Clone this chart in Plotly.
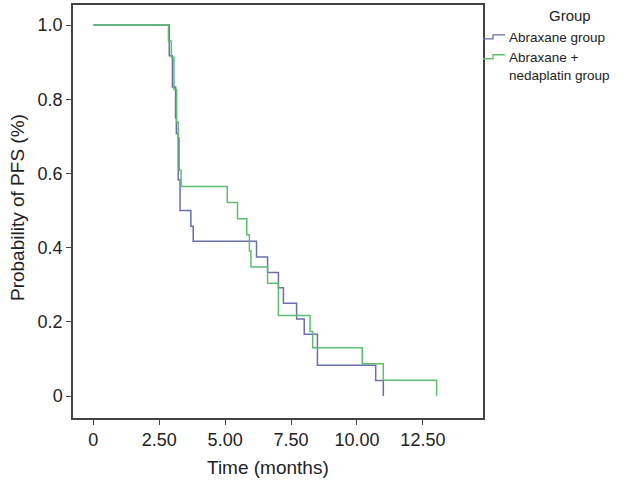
import plotly.graph_objects as go

# Abraxane group (step-function KM estimate)
abx_time = [0, 2.88, 3.00, 3.12, 3.15, 3.22, 3.29, 3.70, 3.79, 6.19, 6.61, 7.02, 7.21, 7.71, 8.00, 8.50, 10.71, 11.00]
abx_surv = [1.0, 0.917, 0.833, 0.750, 0.708, 0.583, 0.500, 0.458, 0.417, 0.375, 0.333, 0.292, 0.250, 0.208, 0.167, 0.083, 0.042, 0.0]

# Abraxane + nedaplatin group
ned_time = [0, 2.85, 2.96, 3.06, 3.16, 3.22, 3.26, 3.33, 5.08, 5.47, 5.82, 5.92, 5.98, 6.61, 7.02, 8.22, 8.32, 10.20, 11.00, 13.02]
ned_surv = [1.0, 0.957, 0.913, 0.826, 0.739, 0.696, 0.609, 0.565, 0.522, 0.478, 0.435, 0.391, 0.348, 0.304, 0.217, 0.174, 0.130, 0.087, 0.043, 0.0]

x_ticks = [0, 2.5, 5, 7.5, 10, 12.5]
x_ticktext = ["0", "2.50", "5.00", "7.50", "10.00", "12.50"]
y_ticks = [0, 0.2, 0.4, 0.6, 0.8, 1.0]
y_ticktext = ["0", "0.2", "0.4", "0.6", "0.8", "1.0"]

legend_title = "Group"
series_labels = ["Abraxane group", "Abraxane +<br>nedaplatin group"]
BLUE = "#6b6fab"
GREEN = "#5dbd72"
FONT = "Liberation Sans, Arial, sans-serif"

fig = go.Figure()
fig.add_trace(go.Scatter(x=abx_time, y=abx_surv, mode="lines", line=dict(shape="hv", color=BLUE, width=1.5),
                         name="Abraxane group", showlegend=False))
fig.add_trace(go.Scatter(x=ned_time, y=ned_surv, mode="lines", line=dict(shape="hv", color=GREEN, width=1.5),
                         name="Abraxane + nedaplatin group", showlegend=False))

W, H = 632, 481
ml, mr, mt, mb = 73, 149, 3, 63

def px_to_paper(xp, yp):
    return (xp - ml) / (W - ml - mr), 1 - (yp - mt) / (H - mt - mb)

annotations = []
shapes = []

# axis titles
tx, ty = px_to_paper(268, 468)
annotations.append(dict(x=tx, y=ty, xref="paper", yref="paper", text="Time (months)", showarrow=False,
                        xanchor="center", yanchor="middle", font=dict(size=19, color="#222", family=FONT)))
tx, ty = px_to_paper(17, 207)
annotations.append(dict(x=tx, y=ty, xref="paper", yref="paper", text="Probability of PFS (%)", showarrow=False,
                        textangle=-90, xanchor="center", yanchor="middle", font=dict(size=19, color="#222", family=FONT)))

# custom legend with step-shaped icons
gx, gy = px_to_paper(570, 14)
annotations.append(dict(x=gx, y=gy, xref="paper", yref="paper", text=legend_title, showarrow=False,
                        xanchor="center", yanchor="middle", font=dict(size=15, color="#222", family=FONT)))
legend_items = [(series_labels[0], BLUE, 35), (series_labels[1], GREEN, 55)]
for label, col, iy in legend_items:
    x0, y0 = px_to_paper(483, iy + 2)
    x1, _ = px_to_paper(493, iy)
    x2, y1 = px_to_paper(505, iy - 2)
    shapes.append(dict(type="path", xref="paper", yref="paper",
                       path=f"M {x0} {y0} L {x1} {y0} L {x1} {y1} L {x2} {y1}",
                       line=dict(color=col, width=1.3)))
    lx, ly = px_to_paper(507, iy - 9)
    annotations.append(dict(x=lx, y=ly, xref="paper", yref="paper", text=label, showarrow=False,
                            xanchor="left", yanchor="top", align="left",
                            font=dict(size=13.5, color="#222", family=FONT)))

fig.update_layout(
    width=W, height=H,
    margin=dict(l=ml, r=mr, t=mt, b=mb),
    paper_bgcolor="white", plot_bgcolor="white",
    font=dict(family=FONT, color="#222", size=18),
    annotations=annotations, shapes=shapes,
    xaxis=dict(range=[-0.77, 14.78], tickvals=x_ticks, ticktext=x_ticktext, ticks="outside", ticklen=5,
               tickcolor="#444", showline=True, linecolor="#444", linewidth=1.5, mirror=True,
               showgrid=False, zeroline=False, tickfont=dict(size=18)),
    yaxis=dict(range=[-0.059, 1.054], tickvals=y_ticks, ticktext=y_ticktext, ticks="outside", ticklen=5,
               tickcolor="#444", showline=True, linecolor="#444", linewidth=1.5, mirror=True,
               showgrid=False, zeroline=False, tickfont=dict(size=18)),
)

fig.write_html("out.html", post_script="document.body.style.margin='0';",
               config={"displayModeBar": False})
